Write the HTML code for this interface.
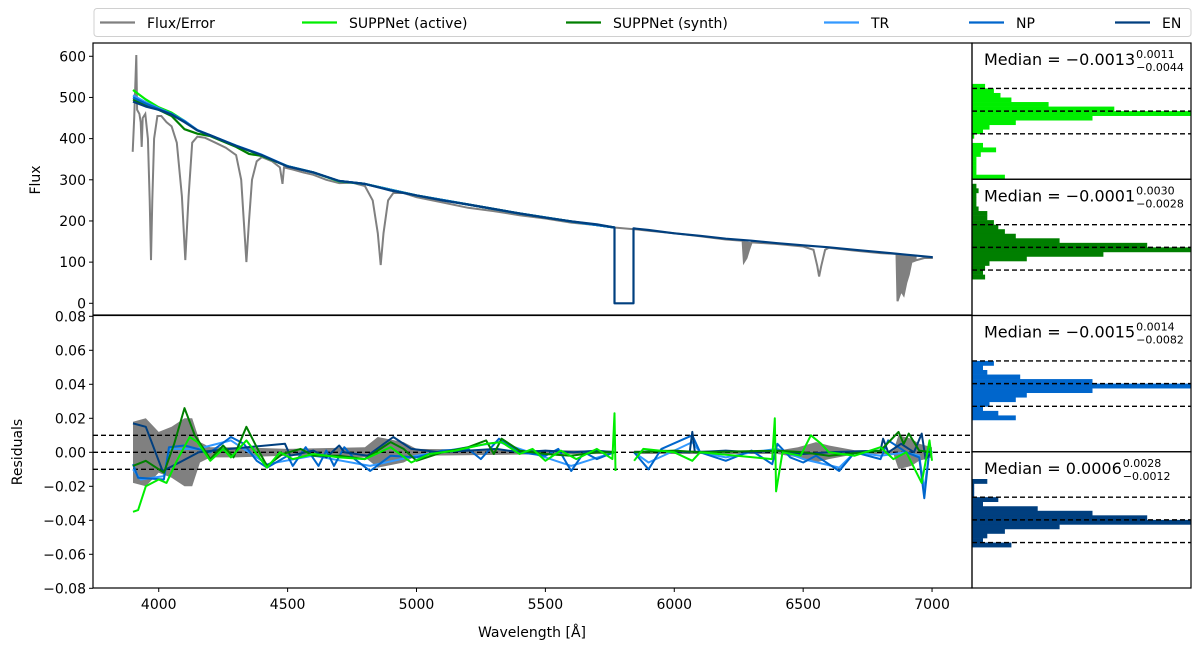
<!DOCTYPE html>
<html><head><meta charset="utf-8"><style>
html,body{margin:0;padding:0;background:#fff;}
svg{display:block;font-family:"DejaVu Sans","Liberation Sans",sans-serif;}
</style></head><body>
<svg id="chart" width="1200" height="646" viewBox="0 0 1200 646" xmlns="http://www.w3.org/2000/svg"></svg>
<script>
// ---------- data ----------
const fluxTicks = [0,100,200,300,400,500,600];
const residTicks = [-0.08,-0.06,-0.04,-0.02,0,0.02,0.04,0.06,0.08];
const residTickLabels = ["\u22120.08","\u22120.06","\u22120.04","\u22120.02","0.00","0.02","0.04","0.06","0.08"];
const wlTicks = [4000,4500,5000,5500,6000,6500,7000];

const fluxObs = [[3899,368],[3905,450],[3913,603],[3916,470],[3925,460],[3930,440],[3934,380],[3938,450],[3948,460],[3958,400],[3965,250],[3970,105],[3975,250],[3982,400],[3995,455],[4010,455],[4030,440],[4050,430],[4070,390],[4090,260],[4103,105],[4116,260],[4130,390],[4150,405],[4180,402],[4220,390],[4260,378],[4300,360],[4320,300],[4330,200],[4340,100],[4350,200],[4362,300],[4380,345],[4400,355],[4440,345],[4470,330],[4480,290],[4486,330],[4520,325],[4560,318],[4600,312],[4650,300],[4700,292],[4750,293],[4800,285],[4830,250],[4850,170],[4861,93],[4872,170],[4890,250],[4910,268],[4950,268],[5000,258],[5100,245],[5200,232],[5300,224],[5400,214],[5500,206],[5600,196],[5700,190],[5766,184],[5844,180],[5900,176],[6000,170],[6100,163],[6200,155],[6265,152],[6270,100],[6280,110],[6290,130],[6300,148],[6400,144],[6500,138],[6540,130],[6555,90],[6562,65],[6570,90],[6585,130],[6600,135],[6700,128],[6800,122],[6862,120],[6866,5],[6880,30],[6890,20],[6900,50],[6910,70],[6920,100],[6940,105],[6970,110],[7003,110]];
const fitEN = [[3900,490],[3950,478],[4000,470],[4050,458],[4100,440],[4150,420],[4200,408],[4300,382],[4400,360],[4500,332],[4600,318],[4700,297],[4800,290],[4900,274],[5000,262],[5100,250],[5200,240],[5300,229],[5400,218],[5500,208],[5600,199],[5700,192],[5768,184],[5768,0],[5842,0],[5842,182],[5900,178],[6000,170],[6100,164],[6200,157],[6300,152],[6400,146],[6500,141],[6600,136],[6700,130],[6800,124],[6900,118],[7003,112]];
const fitNP = [[3900,500],[3950,485],[4000,472],[4050,460],[4100,442],[4150,420],[4200,408],[4300,383],[4400,360],[4500,333],[4600,318],[4700,297],[4800,290],[4900,275],[5000,262],[5200,240],[5400,218],[5600,199],[5768,184]];
const fitTR = [[3900,505],[3950,488],[4000,474],[4050,460],[4100,443],[4150,421],[4200,408],[4300,383],[4400,361],[4500,333],[4600,318],[4700,297],[4800,290],[5000,262],[5200,240],[5400,218],[5600,199],[5768,184]];
const fitActive = [[3900,518],[3950,495],[4000,476],[4050,463],[4100,443],[4150,420],[4200,407],[4300,383],[4400,358],[4500,333],[4600,318],[4700,296],[4800,290],[5000,262],[5200,240],[5400,218],[5600,199],[5768,184]];
const fitSynth = [[3900,495],[3950,482],[4000,470],[4050,455],[4100,423],[4150,412],[4200,406],[4300,380],[4350,363],[4400,358],[4500,333],[4600,318],[4700,297],[4800,290],[5000,262],[5200,240],[5400,218],[5600,199],[5768,184]];

const noiseEnv = [[3900,0.018],[3950,0.02],[4000,0.012],[4050,0.015],[4100,0.02],[4130,0.02],[4160,0.006],[4200,0.003],[4300,0.003],[4500,0.002],[4800,0.003],[4850,0.009],[4950,0.006],[5000,0.002],[5500,0.0012],[5766,0.001]];
const noiseEnv2 = [[5844,0.001],[6400,0.001],[6480,0.003],[6550,0.006],[6600,0.004],[6700,0.0012],[6850,0.001],[6870,0.01],[6920,0.008],[6950,0.005],[7000,0.003]];

const resEN = [[3900,0.017],[3950,0.015],[4015,-0.011],[4080,-0.006],[4155,0],[4275,0.002],[4490,0.005],[4510,-0.002],[4600,0.001],[4650,-0.003],[4700,0.004],[4720,0],[4810,-0.002],[4910,0.009],[4980,0.002],[5090,0],[5200,0.001],[5310,0.002],[5400,0],[5500,0.001],[5610,0],[5700,0.001],[5766,0],null,[5844,0],[5950,0.001],[6060,0],[6070,0.012],[6080,0],[6200,0.001],[6300,0],[6400,0.001],[6500,-0.001],[6600,0],[6800,0.001],[6810,0.008],[6830,0],[6880,0.005],[6930,0],[6960,0.011],[6975,-0.004],[7000,0]];
const resNP = [[3900,-0.007],[3920,-0.015],[4020,-0.016],[4040,0.003],[4100,0.004],[4150,0.002],[4200,0],[4280,0.009],[4330,0.005],[4380,-0.005],[4420,-0.009],[4500,-0.002],[4520,-0.008],[4570,0.003],[4620,-0.008],[4650,0.001],[4680,-0.008],[4720,0.003],[4760,-0.004],[4820,-0.011],[4900,-0.002],[5000,-0.003],[5100,0.001],[5200,0.002],[5250,-0.004],[5320,0.008],[5400,0],[5500,-0.002],[5550,0.002],[5600,-0.011],[5650,0],[5700,-0.004],[5766,0],null,[5844,0],[5900,-0.01],[5950,0.002],[6070,0.01],[6100,0],[6200,-0.005],[6300,0.001],[6380,-0.007],[6400,0.005],[6450,-0.003],[6500,-0.006],[6550,-0.002],[6640,-0.011],[6700,0],[6800,-0.004],[6830,0.007],[6900,0],[6950,-0.003],[6970,-0.027],[6990,0.002],[7000,0]];
const resTR = [[3900,-0.01],[3930,-0.016],[4020,-0.014],[4040,0.002],[4150,0.002],[4280,0.007],[4420,-0.007],[4600,-0.002],[4820,-0.008],[5000,-0.002],[5320,0.006],[5600,-0.008],[5766,0],null,[5844,0],[5900,-0.006],[6000,0.001],[6070,0.006],[6100,0],[6200,-0.003],[6300,0],[6400,0.002],[6500,-0.004],[6640,-0.009],[6700,0],[6800,-0.002],[6900,0],[6950,-0.002],[6970,-0.022],[6990,0.001],[7000,0]];
const resSynth = [[3900,-0.008],[3950,-0.005],[4020,-0.012],[4060,0.005],[4100,0.026],[4140,0.01],[4200,-0.004],[4250,0.004],[4290,-0.003],[4340,0.015],[4380,0.003],[4420,-0.008],[4480,-0.001],[4550,0.002],[4600,-0.002],[4700,-0.002],[4800,-0.004],[4900,0.006],[4950,0.002],[5000,-0.005],[5100,0],[5200,0.003],[5270,0.007],[5300,-0.001],[5330,0.008],[5400,0.001],[5500,-0.001],[5600,-0.002],[5700,0],[5766,0],null,[5844,0],[6000,0.001],[6100,0],[6400,0.001],[6500,0],[6600,-0.002],[6800,0.001],[6870,0.012],[6890,0.005],[6910,0.011],[6950,0.001],[7000,0]];
const resActive = [[3900,-0.035],[3920,-0.034],[3950,-0.02],[4000,-0.016],[4030,-0.018],[4070,-0.005],[4120,0.009],[4150,0.006],[4200,-0.005],[4250,0.002],[4280,-0.003],[4340,0.007],[4420,-0.009],[4470,0],[4520,-0.004],[4600,-0.001],[4700,-0.003],[4800,-0.004],[4900,0.003],[4980,-0.006],[5050,-0.001],[5150,0.001],[5270,0.005],[5330,0.006],[5400,-0.001],[5450,0.002],[5500,-0.005],[5560,0.001],[5620,-0.004],[5700,0.002],[5760,-0.004],[5768,0.023],[5772,-0.011],null,[5844,-0.005],[5880,0.002],[6000,0],[6070,-0.005],[6100,0],[6380,-0.004],[6390,0.02],[6395,-0.023],[6420,0],[6490,-0.002],[6530,0.01],[6570,0.005],[6600,0],[6700,-0.002],[6800,0.003],[6850,-0.004],[6900,0],[6960,-0.018],[6990,0.007],[7000,-0.005]];

const histActive = [0,0,0,0,0,0,0,0,0,0.06,0.1,0.13,0.18,0.35,0.65,1.0,0.55,0.2,0.08,0.05,0.01,0,0.05,0.11,0.04,0.02,0.02,0.02,0.02,0.15];
const histSynth  = [0,0.02,0.03,0.02,0.02,0.02,0.03,0.07,0.07,0.1,0.12,0.15,0.2,0.4,0.8,1.0,0.6,0.25,0.08,0.06,0.05,0.06,0,0,0,0,0,0,0,0];
const histNP     = [0,0,0,0,0,0,0,0,0,0,0.1,0.05,0.07,0.22,0.55,1.0,0.55,0.25,0.2,0.08,0.05,0.12,0.2,0,0,0,0,0,0,0];
const histEN     = [0,0,0,0,0,0,0.07,0.01,0.01,0.01,0.12,0.05,0.3,0.55,0.8,1.0,0.4,0.15,0.07,0.05,0.18,0,0,0,0,0,0,0,0,0];
const medianVals = ["\u22120.0013","\u22120.0001","\u22120.0015","0.0006"];
const medianUp = ["0.0011","0.0030","0.0014","0.0028"];
const medianLo = ["\u22120.0044","\u22120.0028","\u22120.0082","\u22120.0012"];

// ---------- helpers ----------
const NS = "http://www.w3.org/2000/svg";
const svg = document.getElementById('chart');
function mk(tag, attrs, parent){ const e=document.createElementNS(NS,tag); for(const k in attrs) e.setAttribute(k,attrs[k]); (parent||svg).appendChild(e); return e; }
const X0=93, X1=972, W0=3745, W1=7155;
const xs = w => X0 + (w-W0)/(W1-W0)*(X1-X0);
const yFlux = f => 303.3 - f*0.4117;
const yRes = r => 452.3 - r*1700;
function pathOf(pts, fy){ let d="", pen=false; for(const p of pts){ if(!p){pen=false;continue;} d += (pen?"L":"M")+xs(p[0]).toFixed(1)+","+fy(p[1]).toFixed(1); pen=true; } return d; }

const defs = mk('defs',{});
const c1=mk('clipPath',{id:'cTop'},defs); mk('rect',{x:X0,y:43,width:X1-X0,height:272},c1);
const c2=mk('clipPath',{id:'cBot'},defs); mk('rect',{x:X0,y:316,width:X1-X0,height:272},c2);

// ---------- top panel ----------
const gTop = mk('g',{'clip-path':'url(#cTop)'});


let e;
e=mk('path',{d:pathOf(fluxObs,yFlux),fill:'none',stroke:'#808080','stroke-width':2},gTop);
 
e=mk('path',{d:pathOf([[6862,120],[6866,5],[6880,30],[6890,20],[6900,50],[6910,70],[6920,100],[6940,105],[6940,118],[6862,120]],yFlux)+"Z",fill:'#808080',stroke:'none'},gTop);
 
e=mk('path',{d:pathOf([[6268,152],[6272,100],[6285,115],[6300,148],[6268,152]],yFlux)+"Z",fill:'#808080'},gTop);
 
const topSeries=[[fitActive,'#00ee00','fit-active-line'],[fitSynth,'#007f00','fit-synth-line'],[fitTR,'#3399ff','fit-tr-line'],[fitNP,'#0066cc','fit-np-line'],[fitEN,'#003f7f','fit-en-line']];
for(const s of topSeries){ e=mk('path',{d:pathOf(s[0],yFlux),fill:'none',stroke:s[1],'stroke-width':2.2,'stroke-linejoin':'round'},gTop);
    }

// ---------- bottom panel ----------
const gBot = mk('g',{'clip-path':'url(#cBot)'});


for(const env of [noiseEnv,noiseEnv2]){
  const up=env.map(p=>[p[0],p[1]]), lo=env.slice().reverse().map(p=>[p[0],-p[1]]);
  e=mk('path',{d:pathOf(up.concat(lo),yRes)+"Z",fill:'#808080'},gBot);
   
}
for(const v of [0.01,0,-0.01]){ e=mk('line',{x1:X0,x2:X1,y1:yRes(v),y2:yRes(v),stroke:'#000','stroke-width':1.4,'stroke-dasharray':'5,3'},gBot);
    }
const botSeries=[[resTR,'#3399ff','residual-tr-line'],[resNP,'#0066cc','residual-np-line'],[resEN,'#003f7f','residual-en-line'],[resSynth,'#007f00','residual-synth-line'],[resActive,'#00ee00','residual-active-line']];
for(const s of botSeries){ e=mk('path',{d:pathOf(s[0],yRes),fill:'none',stroke:s[1],'stroke-width':2,'stroke-linejoin':'round'},gBot);
    }

// ---------- histograms ----------
const HX0=972, HX1=1191, PH=136.25;
const hists=[[histActive,'#00ee00'],[histSynth,'#007f00'],[histNP,'#0066cc'],[histEN,'#003f7f']];
hists.forEach((h,i)=>{
  const top=43+i*PH, bh=PH/30;
  const g=mk('g',{});
  
  
  h[0].forEach((v,j)=>{ if(v>0){ const r=mk('rect',{x:HX0,y:(top+j*bh).toFixed(2),width:(v*(HX1-HX0)).toFixed(1),height:(bh+0.3).toFixed(2),fill:h[1]},g);
      }});
  for(const d of [-22.7,0,22.7]){ const l=mk('line',{x1:HX0,x2:HX1,y1:top+PH/2+d,y2:top+PH/2+d,stroke:'#000','stroke-width':1.4,'stroke-dasharray':'5,3'},g);
      }
  const t=mk('text',{x:984,y:top+22,'font-size':16,fill:'#000'},g);
   
  t.textContent="Median = "+medianVals[i];
  const bw=t.getComputedTextLength();
  const su=mk('text',{x:984+bw+1,y:top+15,'font-size':11},g); su.textContent=medianUp[i];
   
  const sl=mk('text',{x:984+bw+1,y:top+28,'font-size':11},g); sl.textContent=medianLo[i];
   
  const fr=mk('rect',{x:HX0,y:top,width:HX1-HX0,height:PH,fill:'none',stroke:'#000','stroke-width':1.2});
   
});

// ---------- axes ----------
e=mk('rect',{x:X0,y:43,width:X1-X0,height:272,fill:'none',stroke:'#000','stroke-width':1.2});  
e=mk('rect',{x:X0,y:315.5,width:X1-X0,height:272.5,fill:'none',stroke:'#000','stroke-width':1.2});  
for(const t of fluxTicks){ const y=yFlux(t);
  e=mk('line',{x1:X0-4,x2:X0,y1:y,y2:y,stroke:'#000'});  
  e=mk('text',{x:X0-7,y:y+5,'font-size':14,'text-anchor':'end'}); e.textContent=t;   }
residTicks.forEach((t,i)=>{ const y=yRes(t);
  e=mk('line',{x1:X0-4,x2:X0,y1:y,y2:y,stroke:'#000'});  
  e=mk('text',{x:X0-7,y:y+5,'font-size':14,'text-anchor':'end'}); e.textContent=residTickLabels[i];   });
for(const t of wlTicks){ const x=xs(t);
  e=mk('line',{x1:x,x2:x,y1:588,y2:592,stroke:'#000'});  
  e=mk('text',{x:x,y:609,'font-size':14,'text-anchor':'middle'}); e.textContent=t;   }
e=mk('text',{x:0,y:0,'font-size':14,'text-anchor':'middle',transform:'translate(40,180) rotate(-90)'}); e.textContent='Flux';  
e=mk('text',{x:0,y:0,'font-size':14,'text-anchor':'middle',transform:'translate(22,452) rotate(-90)'}); e.textContent='Residuals';  
e=mk('text',{x:532,y:637,'font-size':14,'text-anchor':'middle'}); e.textContent='Wavelength [\u00c5]';  

// ---------- legend ----------
const lg=mk('g',{});  
e=mk('rect',{x:94,y:8.5,width:1097,height:28,rx:3,fill:'#fff',stroke:'#d0d0d0'},lg);  
const legendItems=[['Flux/Error','#808080',100],['SUPPNet (active)','#00ee00',302],['SUPPNet (synth)','#007f00',566],['TR','#3399ff',824],['NP','#0066cc',969],['EN','#003f7f',1115]];
for(const it of legendItems){
  e=mk('line',{x1:it[2],x2:it[2]+35,y1:22.5,y2:22.5,stroke:it[1],'stroke-width':2.2},lg);  
  e=mk('text',{x:it[2]+47,y:28,'font-size':14},lg); e.textContent=it[0];   }
</script>
</body></html>
